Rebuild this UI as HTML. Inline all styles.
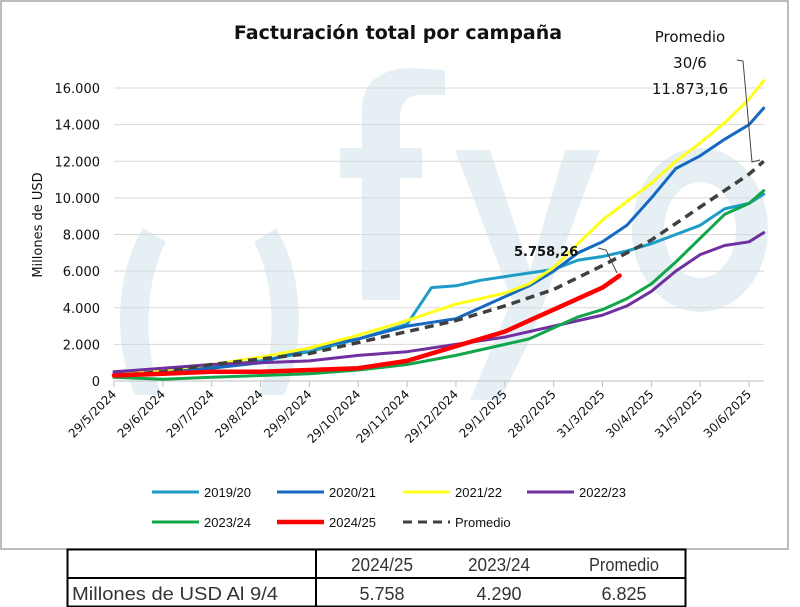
<!DOCTYPE html>
<html><head><meta charset="utf-8">
<style>
body{margin:0;background:#fff;width:800px;height:607px;overflow:hidden;font-family:"Liberation Sans",sans-serif}
svg{position:absolute;left:0;top:0}
</style></head>
<body>
<svg id="chart" width="800" height="607" viewBox="0 0 800 607">
<rect x="1" y="1" width="787" height="548" fill="#fff" stroke="#a6a6a6" stroke-width="1.5"/>
<g id="watermark" fill="#e6f0f4">
<path d="M143,228 A80,130 0 0 0 135,395 L162,395 A55,110 0 0 1 166,242 Z"/>
<path d="M276,228 A80,130 0 0 1 284,395 L258,395 A55,110 0 0 0 254,242 Z"/>
<path d="M362,300 L362,110 Q362,70 410,68 L445,70 L445,95 L420,95 Q400,96 400,118 L400,300 Z"/>
<rect x="340" y="148" width="82" height="30"/>
<path d="M455,150 L490,150 L530,270 L565,150 L600,150 L530,340 L500,400 L470,400 L512,300 Z"/>
<path fill-rule="evenodd" d="M700,148 A68,82 0 1 1 699.9,148 Z M700,182 A36,48 0 1 0 700.1,182 Z"/>
</g>
<g id="grid"></g>
<g id="series"></g>
<text x="398" y="39" text-anchor="middle" font-size="19" font-weight="bold" fill="#111" font-family="DejaVu Sans,sans-serif">Facturación total por campaña</text>
<text transform="translate(42,225) rotate(-90)" text-anchor="middle" font-size="13" fill="#111" font-family="DejaVu Sans,sans-serif">Millones de USD</text>
<g font-family="DejaVu Sans,sans-serif" font-size="15" fill="#111" text-anchor="middle">
<text x="690" y="42">Promedio</text><text x="690" y="68">30/6</text><text x="690" y="94">11.873,16</text>
</g>
<polyline points="737,60 743,61 752,162 760,160" fill="none" stroke="#444" stroke-width="1"/>
<text x="514" y="256" font-family="DejaVu Sans,sans-serif" font-size="13" font-weight="bold" fill="#111">5.758,26</text>
<polyline points="598,248 606,250 617,273" fill="none" stroke="#444" stroke-width="1"/>
<g id="legend" font-family="Liberation Sans,sans-serif" font-size="13" fill="#111"></g>
<g font-family="Liberation Sans,sans-serif" fill="#333">
<rect x="67.5" y="549.5" width="618" height="57" fill="none" stroke="#000" stroke-width="2"/>
<line x1="67" y1="578" x2="686" y2="578" stroke="#000" stroke-width="2"/>
<line x1="316" y1="549" x2="316" y2="607" stroke="#000" stroke-width="2"/>
<text x="382" y="571" text-anchor="middle" font-size="18" textLength="62" lengthAdjust="spacingAndGlyphs">2024/25</text>
<text x="499" y="571" text-anchor="middle" font-size="18" textLength="62" lengthAdjust="spacingAndGlyphs">2023/24</text>
<text x="624" y="571" text-anchor="middle" font-size="18" textLength="70" lengthAdjust="spacingAndGlyphs">Promedio</text>
<text x="72" y="600" font-size="18" textLength="206" lengthAdjust="spacingAndGlyphs">Millones de USD Al 9/4</text>
<text x="382" y="600" text-anchor="middle" font-size="18">5.758</text>
<text x="499" y="600" text-anchor="middle" font-size="18">4.290</text>
<text x="624" y="600" text-anchor="middle" font-size="18">6.825</text>
</g>
</svg>
<script>
const tickLabels=["29/5/2024","29/6/2024","29/7/2024","29/8/2024","29/9/2024","29/10/2024","29/11/2024","29/12/2024","29/1/2025","28/2/2025","31/3/2025","30/4/2025","31/5/2025","30/6/2025"];
const yTicks=[0,2000,4000,6000,8000,10000,12000,14000,16000];
const seriesNames=["2019/20","2020/21","2021/22","2022/23","2023/24","2024/25","Promedio"];
const x1920=[0,1,2,3,4,5,6,6.5,7,7.5,8,8.5,9,9.5,10,10.5,11,11.5,12,12.5,13,13.3];
const v1920=[300,600,800,1100,1600,2300,3100,5100,5200,5500,5700,5900,6100,6600,6800,7100,7500,8000,8500,9400,9700,10200];
const x2021=[0,1,2,3,4,5,6,7,8,8.5,9,9.5,10,10.5,11,11.5,12,12.5,13,13.3];
const v2021=[400,600,700,1000,1800,2300,3000,3400,4600,5200,6000,7000,7600,8500,10000,11600,12300,13200,14000,14900];
const x2122=[0,1,2,3,4,5,6,7,8,8.5,9,9.5,10,10.5,11,11.5,12,12.5,13,13.3];
const v2122=[300,600,900,1300,1800,2500,3300,4200,4800,5300,6200,7500,8800,9800,10800,12000,13000,14100,15400,16400];
const x2223=[0,1,2,3,4,5,6,7,8,9,10,10.5,11,11.5,12,12.5,13,13.3];
const v2223=[500,700,900,1000,1100,1400,1600,2000,2400,3000,3600,4100,4900,6000,6900,7400,7600,8100];
const x2324=[0,1,2,3,4,5,6,7,8,8.5,9,9.5,10,10.5,11,11.5,12,12.5,13,13.3];
const v2324=[200,100,200,300,400,600,900,1400,2000,2300,2900,3500,3900,4500,5300,6500,7800,9100,9700,10400];
const x2425=[0,1,2,3,4,5,6,7,8,8.5,9,9.5,10,10.35];
const v2425=[300,400,500,500,600,700,1100,1900,2700,3300,3900,4500,5100,5758];
const xProm=[0,1,2,3,4,5,6,7,8,9,10,11,12,12.5,13,13.3];
const vProm=[300,500,900,1200,1500,2100,2700,3300,4100,5000,6300,7700,9500,10400,11300,12000];
const NS="http://www.w3.org/2000/svg";
const X0=114,DX=48.85,Y0=381,YS=(381-88)/16000;
const xs=m=>X0+m*DX, ys=v=>Y0-v*YS;
function mk(t,p,a){const e=document.createElementNS(NS,t);for(const k in a)e.setAttribute(k,a[k]);p.appendChild(e);return e;}
const grid=document.getElementById('grid');
yTicks.forEach(v=>{
  if(v>0){const l=mk('line',grid,{x1:114,x2:764,y1:ys(v),y2:ys(v),stroke:'#d9d9d9','stroke-width':1});
  
  }
  const t=mk('text',grid,{x:100,y:ys(v)+5,'text-anchor':'end','font-size':13,'font-family':'DejaVu Sans,sans-serif',fill:'#111'});
  t.textContent=v===0?'0':(v/1000).toFixed(3);
  
  
});
const ax=mk('line',grid,{x1:114,x2:764,y1:Y0,y2:Y0,stroke:'#bfbfbf','stroke-width':1});


tickLabels.forEach((s,i)=>{
  const x=xs(i);
  mk('line',grid,{x1:x,x2:x,y1:Y0,y2:Y0+6,stroke:'#bfbfbf'});
  const t=mk('text',grid,{transform:`translate(${x+3},${Y0+14}) rotate(-45)`,'text-anchor':'end','font-size':12,'font-family':'DejaVu Sans,sans-serif',fill:'#111'});
  t.textContent=s;
  
  
});
const ser=document.getElementById('series');
const defs=[[x1920,v1920,'#1c9cc6',3,null,'series-2019-20'],[x2021,v2021,'#1569c0',3,null,'series-2020-21'],[x2122,v2122,'#ffff1a',3,null,'series-2021-22'],[x2223,v2223,'#7030a0',3,null,'series-2022-23'],[x2324,v2324,'#12a64a',3,null,'series-2023-24'],[xProm,vProm,'#404040',3.5,'9,6','series-promedio'],[x2425,v2425,'#ff0000',4.5,null,'series-2024-25']];
defs.forEach(d=>{
  const pts=d[0].map((m,i)=>xs(m).toFixed(1)+','+ys(d[1][i]).toFixed(1)).join(' ');
  const a={points:pts,fill:'none',stroke:d[2],'stroke-width':d[3],'stroke-linejoin':'round','stroke-linecap':'round'};
  if(d[4]){a['stroke-dasharray']=d[4];a['stroke-linecap']='butt';}
  const p=mk('polyline',ser,a);
  
  
});
const leg=document.getElementById('legend');
const lpos=[[152,492],[277,492],[403,492],[527,492],[152,522],[277,522],[403,522]];
const lcol=['#1c9cc6','#1569c0','#ffff1a','#7030a0','#12a64a','#ff0000','#404040'];
seriesNames.forEach((n,i)=>{
  const g=mk('g',leg,{});
  
  
  const [x,y]=lpos[i];
  const a={x1:x,x2:x+47,y1:y,y2:y,stroke:lcol[i],'stroke-width':i==5?4.5:3};
  if(i==6)a['stroke-dasharray']='9,6';
  mk('line',g,a);
  const t=mk('text',g,{x:x+52,y:y+5});
  t.textContent=n;
});
</script>
</body></html>
